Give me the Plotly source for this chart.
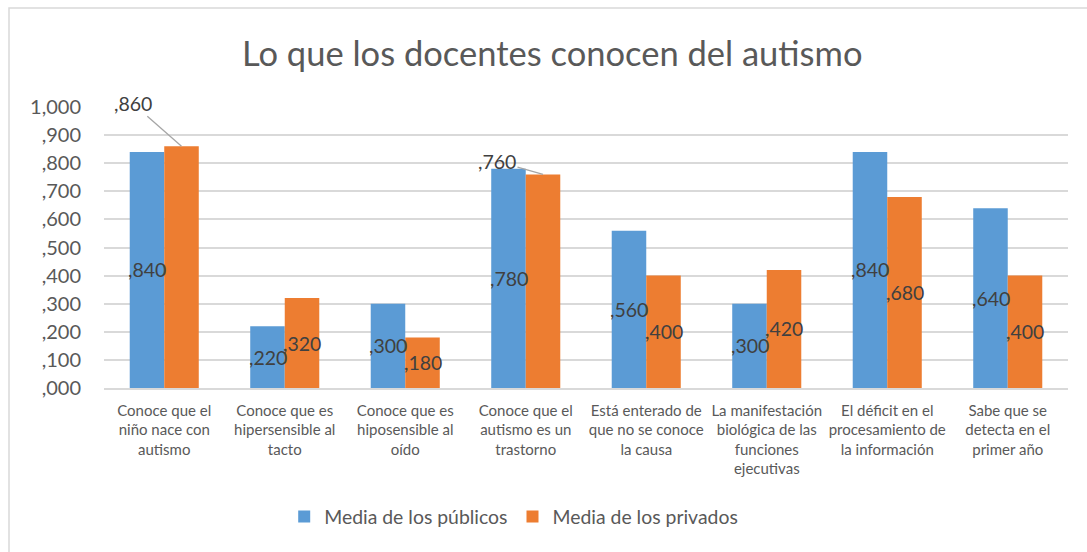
import plotly.graph_objects as go

categories = [
    "Conoce que el<br>niño nace con<br>autismo",
    "Conoce que es<br>hipersensible al<br>tacto",
    "Conoce que es<br>hiposensible al<br>oído",
    "Conoce que el<br>autismo es un<br>trastorno",
    "Está enterado de<br>que no se conoce<br>la causa",
    "La manifestación<br>biológica de las<br>funciones<br>ejecutivas",
    "El déficit en el<br>procesamiento de<br>la información",
    "Sabe que se<br>detecta en el<br>primer año",
]
publicos = [0.84, 0.22, 0.30, 0.78, 0.56, 0.30, 0.84, 0.64]
privados = [0.86, 0.32, 0.18, 0.76, 0.40, 0.42, 0.68, 0.40]
tick_vals = [0.0, 0.1, 0.2, 0.3, 0.4, 0.5, 0.6, 0.7, 0.8, 0.9, 1.0]
tick_text = [",000", ",100", ",200", ",300", ",400", ",500", ",600", ",700", ",800", ",900", "1,000"]
series_names = ["Media de los públicos", "Media de los privados"]

BLUE = "#5B9BD5"
ORANGE = "#ED7D31"
FONT = "Lato"
GREY = "#595959"
LABEL = "#404040"


def fmt(v):
    s = f"{v:.3f}".replace(".", ",")
    return s[1:] if s.startswith("0") else s


x_idx = list(range(len(categories)))

fig = go.Figure()
fig.add_trace(go.Bar(x=x_idx, y=publicos, name=series_names[0], marker_color=BLUE,
                     marker_line_width=0))
fig.add_trace(go.Bar(x=x_idx, y=privados, name=series_names[1], marker_color=ORANGE,
                     marker_line_width=0))

annotations = []
half = 17.25
lab_font = dict(family=FONT, size=19.5, color=LABEL)
for i, v in enumerate(publicos):
    annotations.append(dict(x=i, y=v / 2, xref="x", yref="y", text=fmt(v), showarrow=False,
                            xshift=-half, font=lab_font))
# leader-line labels for the tallest private bars
leader = {0: (-49, -43), 3: (-46, -13)}
for i, v in enumerate(privados):
    if i in leader:
        ax, ay = leader[i]
        annotations.append(dict(x=i, y=v, xref="x", yref="y", text=fmt(v), showarrow=True,
                                arrowhead=0, arrowwidth=1.3, arrowcolor="#A6A6A6",
                                ax=ax, ay=ay, xshift=half, standoff=0, font=lab_font))
    else:
        annotations.append(dict(x=i, y=v / 2, xref="x", yref="y", text=fmt(v), showarrow=False,
                                xshift=half, font=lab_font))

annotations.append(dict(text="Lo que los docentes conocen del autismo", xref="paper", yref="paper",
                        x=(552 - 104) / 964, y=1.0, yshift=55, showarrow=False,
                        xanchor="center", yanchor="middle",
                        font=dict(family=FONT, size=34.5, color=GREY)))

fig.update_layout(
    width=1087, height=552,
    margin=dict(l=104, r=19, t=107, b=164),
    paper_bgcolor="white", plot_bgcolor="white",
    barmode="group", bargap=0.427, bargroupgap=0,
    showlegend=True,
    legend=dict(orientation="h", x=0.425, xanchor="center", y=-0.459, yanchor="middle",
                font=dict(family=FONT, size=19.4, color=GREY), itemwidth=30,
                traceorder="normal"),
    annotations=annotations,
    xaxis=dict(tickvals=x_idx, ticktext=categories, range=[-0.5, len(categories) - 0.5],
               tickfont=dict(family=FONT, size=15, color=GREY), showline=True,
               linecolor="#D9D9D9", linewidth=1.5, ticks="", tickangle=0,
               ticklabelstandoff=8),
    yaxis=dict(range=[0, 1.0], tickvals=tick_vals, ticktext=tick_text,
               tickfont=dict(family=FONT, size=20, color=GREY), showgrid=True,
               gridcolor="#D9D9D9", gridwidth=1.5, zeroline=False, ticks="",
               ticklabelstandoff=22),
    shapes=[dict(type="rect", xref="paper", yref="paper", x0=-95 / 964, y0=-0.8,
                 x1=1.2, y1=1 + 99 / 281, line=dict(color="#D9D9D9", width=1.5),
                 fillcolor="rgba(0,0,0,0)", layer="below")],
)

fig.write_html("out.html")
